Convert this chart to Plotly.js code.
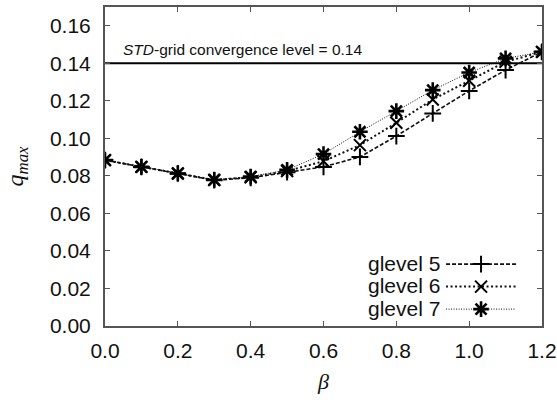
<!DOCTYPE html>
<html><head><meta charset="utf-8">
<script src="https://cdn.plot.ly/plotly-3.0.1.min.js"></script>
<style>html,body{margin:0;padding:0;background:#fff}#c{width:557px;height:400px}</style>
</head><body><div id="c"></div>
<script>
const beta = [0.0,0.1,0.2,0.3,0.4,0.5,0.6,0.7,0.8,0.9,1.0,1.1,1.2];
const glevel5 = [0.0884,0.0848,0.0813,0.0777,0.0790,0.0820,0.0848,0.0901,0.1012,0.1133,0.1253,0.1364,0.1461];
const glevel6 = [0.0884,0.0848,0.0813,0.0778,0.0793,0.0826,0.0878,0.0964,0.1083,0.1207,0.1307,0.1408,0.1461];
const glevel7 = [0.0884,0.0848,0.0813,0.0779,0.0796,0.0832,0.0916,0.1035,0.1145,0.1257,0.1351,0.1426,0.1461];
const seriesNames = ['glevel 5','glevel 6','glevel 7'];
const convergenceLevel = 0.14;
const xTicks = [0.0,0.2,0.4,0.6,0.8,1.0,1.2];
const yTicks = [0.00,0.02,0.04,0.06,0.08,0.10,0.12,0.14,0.16];

const styles = [
  {dash:'4px,2px', width:1.6, symbol:'cross-thin-open', size:12, mw:2},
  {dash:'2px,2.5px', width:2.0, symbol:'x-thin-open', size:12, mw:2},
  {dash:'1px,1.5px', width:1.0, symbol:'asterisk-open', size:13, mw:2.6}
];
const ys = [glevel5, glevel6, glevel7];
const traces = [];
traces.push({x:[beta[0], beta[beta.length-1]], y:[convergenceLevel, convergenceLevel], mode:'lines',
  line:{color:'#000', width:2}, showlegend:false, hoverinfo:'skip'});
ys.forEach((y,i)=>{
  traces.push({x:beta, y:y, mode:'lines+markers', name:' ',
    line:{color:'#111', width:styles[i].width, dash:styles[i].dash},
    marker:{symbol:styles[i].symbol, size:styles[i].size, color:'#000', line:{color:'#000', width:styles[i].mw}}});
});

const axisCommon = {showgrid:false, zeroline:false, showline:true, linecolor:'#555', linewidth:2,
  mirror:'ticks', ticks:'inside', ticklen:5, tickwidth:1, tickcolor:'#555',
  tickfont:{family:'Liberation Sans, Arial, sans-serif', size:21, color:'#111'}};

const legendRows = [0.197, 0.127, 0.056];
const legendNames = seriesNames.map((n,i)=>({
  text:n, xref:'paper', yref:'paper', x:0.771, y:legendRows[i], xanchor:'right', yanchor:'middle',
  showarrow:false, font:{family:'Liberation Sans, Arial, sans-serif', size:21, color:'#111'}}));

const layout = {
  width:557, height:400, margin:{l:105, r:15, t:7, b:74},
  paper_bgcolor:'#fff', plot_bgcolor:'#fff',
  xaxis:Object.assign({}, axisCommon, {range:[0,1.2], tickvals:xTicks, ticktext:xTicks.map(v=>v.toFixed(1)),
    ticklabelstandoff:5,
    title:{text:'β', standoff:12, font:{family:'Liberation Serif, Times New Roman, serif', size:22, color:'#111', style:'italic'}}}),
  yaxis:Object.assign({}, axisCommon, {range:[0,0.17], tickvals:yTicks, ticktext:yTicks.map(v=>v.toFixed(2)),
    ticklabelstandoff:8,
    title:{text:'q<sub>max</sub>', standoff:20, font:{family:'Liberation Serif, Times New Roman, serif', size:24, color:'#111', style:'italic'}}}),
  showlegend:true,
  legend:{x:0.769, y:0.245, xanchor:'left', yanchor:'top', bgcolor:'rgba(0,0,0,0)', itemwidth:70,
    font:{size:15, family:'Liberation Sans, Arial, sans-serif'}, tracegroupgap:0, itemsizing:'trace'},
  annotations:[
    {text:'<i>STD</i>-grid convergence level = 0.14', x:0.045, y:convergenceLevel, xref:'x', yref:'y',
     xanchor:'left', yanchor:'bottom', yshift:3, showarrow:false,
     font:{family:'Liberation Sans, Arial, sans-serif', size:15.5, color:'#111'}}
  ].concat(legendNames)
};
Plotly.newPlot('c', traces, layout, {displayModeBar:false, staticPlot:true});
</script></body></html>
